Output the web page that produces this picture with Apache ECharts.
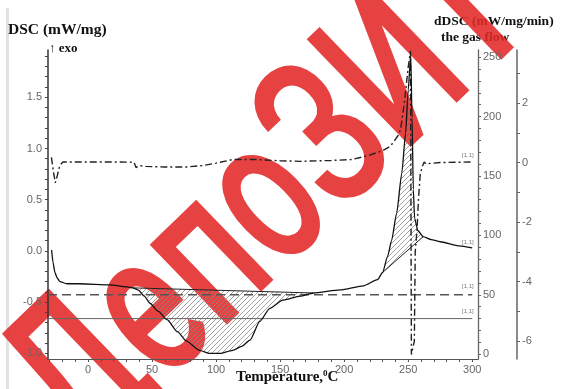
<!DOCTYPE html>
<html>
<head>
<meta charset="utf-8">
<script src="https://cdn.jsdelivr.net/npm/echarts@6/dist/echarts.min.js"></script>
<style>
  html, body { margin: 0; padding: 0; background: #fff; }
  #chart { width: 566px; height: 389px; }
</style>
</head>
<body>
<div id="chart"></div>
<script>
// DSC curve (left axis), temperature in degC
var dscTemp = [-28.4, -27.3, -25.8, -24.2, -21.9, -16.4, -6.3, 17, 30.5, 35, 39, 44, 48.4, 55, 61.7, 70, 77, 87, 95, 103, 113, 120, 126.5, 134, 142, 152, 165.6, 176, 197, 215, 226, 230, 234, 237, 241, 245, 248, 250, 252, 253, 254, 255, 257.5, 261.7, 268, 275, 290, 300];
var dscVal = [0.01, -0.11, -0.21, -0.26, -0.30, -0.32, -0.32, -0.33, -0.35, -0.36, -0.38, -0.44, -0.51, -0.59, -0.67, -0.79, -0.88, -0.97, -1.0, -1.0, -0.97, -0.93, -0.87, -0.69, -0.56, -0.48, -0.44, -0.41, -0.38, -0.34, -0.28, -0.21, -0.05, 0.10, 0.37, 0.76, 1.15, 1.57, 1.91, 1.30, 0.60, 0.32, 0.20, 0.14, 0.11, 0.09, 0.05, 0.03];

// dDSC curve (right axis 2)
var ddscTemp = [-28.5, -27, -25.5, -24, -22, -19.5, 0, 20, 36, 37.5, 40, 45, 60, 77, 90, 100, 113, 130, 150, 166, 190, 206, 220, 230, 236, 242, 244, 247, 250, 251.8, 252.5, 254.8, 255.5, 257, 258, 259.4, 261, 262.5, 264, 267, 275, 290, 300];
var ddscVal = [0.17, -0.3, -0.68, -0.45, -0.1, 0.02, 0.02, 0.02, 0.01, -0.17, -0.1, -0.13, -0.15, -0.15, -0.1, -0.02, 0.1, 0.1, 0.06, 0.04, 0.07, 0.1, 0.25, 0.4, 0.54, 0.9, 1.1, 2.0, 3.2, 3.75, -6.45, -6.0, -3.0, -2.2, -1.24, -0.4, -0.13, 0.02, -0.05, -0.03, 0, 0.01, 0.02];

// gas flow lines (right axis 1)
var gasTemp = [-31.2, 300];
var gasFlowA = [50, 50];
var gasFlowB = [30, 30];

// integration baselines
var endoBaseTemp = [35, 176];
var endoBaseVal = [-0.36, -0.41];
var exoBaseTemp = [230, 261.7];
var exoBaseVal = [-0.21, 0.14];

// ticks and labels
var xTicks = [-30, -20, -10, 0, 10, 20, 30, 40, 50, 60, 70, 80, 90, 100, 110, 120, 130, 140, 150, 160, 170, 180, 190, 200, 210, 220, 230, 240, 250, 260, 270, 280, 290, 300];
var xLabels = [0, 50, 100, 150, 200, 250, 300];
var dscTicks = [-1.0, -0.9, -0.8, -0.7, -0.6, -0.5, -0.4, -0.3, -0.2, -0.1, 0, 0.1, 0.2, 0.3, 0.4, 0.5, 0.6, 0.7, 0.8, 0.9, 1.0, 1.1, 1.2, 1.3, 1.4, 1.5, 1.6, 1.7, 1.8, 1.9];
var dscLabels = [-1.0, -0.5, 0, 0.5, 1.0, 1.5];
var gasTicks = [0, 10, 20, 30, 40, 50, 60, 70, 80, 90, 100, 110, 120, 130, 140, 150, 160, 170, 180, 190, 200, 210, 220, 230, 240, 250];
var gasLabels = [0, 50, 100, 150, 200, 250];
var ddscTicks = [-6, -5, -4, -3, -2, -1, 0, 1, 2, 3];
var ddscLabels = [-6, -4, -2, 0, 2];

function pairs(xs, ys) {
  return xs.map(function (x, i) { return [x, ys[i]]; });
}

function hatchPattern() {
  var c = document.createElement("canvas");
  c.width = 5;
  c.height = 5;
  var g = c.getContext("2d");
  g.strokeStyle = "#8a8a8a";
  g.lineWidth = 0.8;
  g.beginPath();
  g.moveTo(0, 5); g.lineTo(5, 0);
  g.moveTo(-1, 1); g.lineTo(1, -1);
  g.moveTo(4, 6); g.lineTo(6, 4);
  g.stroke();
  return { image: c, repeat: "repeat" };
}
var hatch = hatchPattern();

// hatched area between the DSC curve and a straight baseline
function hatchSeries(baseT, baseV) {
  return {
    type: "custom",
    xAxisIndex: 0,
    yAxisIndex: 0,
    silent: true,
    z: 1,
    data: [[baseT[0], baseV[0]]],
    renderItem: function (params, api) {
      var pts = [];
      for (var i = 0; i < dscTemp.length; i++) {
        if (dscTemp[i] >= baseT[0] && dscTemp[i] <= baseT[1]) {
          pts.push(api.coord([dscTemp[i], dscVal[i]]));
        }
      }
      pts.push(api.coord([baseT[1], baseV[1]]));
      pts.push(api.coord([baseT[0], baseV[0]]));
      return {
        type: "polygon",
        shape: { points: pts },
        style: { fill: hatch, stroke: null },
      };
    },
  };
}

var labelStyle = { color: "#666", fontSize: 11, fontFamily: "Liberation Sans" };
var serif = "Liberation Serif";

var chart = echarts.init(document.getElementById("chart"));
var option = {
  backgroundColor: "#fff",
  animation: false,
  grid: { left: 48, right: 88, top: 50, bottom: 30 },
  xAxis: {
    type: "value",
    min: -31.2,
    max: 304.5,
    splitLine: { show: false },
    axisLine: { onZero: false, lineStyle: { color: "#555", width: 1.2 } },
    axisTick: { customValues: xTicks, length: 3, lineStyle: { color: "#555" } },
    axisLabel: Object.assign({ customValues: xLabels, margin: 5 }, labelStyle),
  },
  yAxis: [
    {
      type: "value",
      position: "left",
      min: -1.054,
      max: 1.961,
      splitLine: { show: false },
      axisLine: { show: true, onZero: false, lineStyle: { color: "#333", width: 1.5 } },
      axisTick: { customValues: dscTicks, length: 3, lineStyle: { color: "#444" } },
      axisLabel: Object.assign({
        customValues: dscLabels,
        margin: 6,
        formatter: function (v) { return v.toFixed(1); },
      }, labelStyle),
    },
    {
      type: "value",
      position: "right",
      min: -4,
      max: 256,
      splitLine: { show: false },
      axisLine: { show: true, onZero: false, lineStyle: { color: "#666", width: 1.3 } },
      axisTick: { customValues: gasTicks, length: 3, lineStyle: { color: "#666" } },
      axisLabel: Object.assign({ customValues: gasLabels, margin: 5 }, labelStyle),
    },
    {
      type: "value",
      position: "right",
      offset: 39,
      min: -6.6,
      max: 3.78,
      splitLine: { show: false },
      axisLine: { show: true, onZero: false, lineStyle: { color: "#666", width: 1.5 } },
      axisTick: { customValues: ddscTicks, length: 3, lineStyle: { color: "#666" } },
      axisLabel: Object.assign({ customValues: ddscLabels, margin: 5 }, labelStyle),
    },
  ],
  series: [
    hatchSeries(endoBaseTemp, endoBaseVal),
    hatchSeries(exoBaseTemp, exoBaseVal),
    {
      name: "gas flow 50",
      type: "line",
      yAxisIndex: 1,
      symbol: "none",
      data: pairs(gasTemp, gasFlowA),
      lineStyle: { color: "#555", width: 1.6, type: [9, 5] },
    },
    {
      name: "gas flow 30",
      type: "line",
      yAxisIndex: 1,
      symbol: "none",
      data: pairs(gasTemp, gasFlowB),
      lineStyle: { color: "#666", width: 1 },
    },
    {
      name: "endo baseline",
      type: "line",
      symbol: "none",
      data: pairs(endoBaseTemp, endoBaseVal),
      lineStyle: { color: "#222", width: 1 },
    },
    {
      name: "exo baseline",
      type: "line",
      symbol: "none",
      data: pairs(exoBaseTemp, exoBaseVal),
      lineStyle: { color: "#222", width: 1 },
    },
    {
      name: "dDSC",
      type: "line",
      yAxisIndex: 2,
      symbol: "none",
      data: pairs(ddscTemp, ddscVal),
      lineStyle: { color: "#222", width: 1.4, type: [7, 3, 2, 3] },
    },
    {
      name: "DSC",
      type: "line",
      symbol: "none",
      smooth: 0.2,
      smoothMonotone: "x",
      data: pairs(dscTemp, dscVal),
      lineStyle: { color: "#111", width: 1.3 },
    },
  ],
  graphic: [
    { type: "rect", left: 6, top: 8, z: 0, shape: { width: 3, height: 381 }, style: { fill: "#e2e2e2" } },
    { type: "text", left: 8, top: 22, style: { text: "DSC (mW/mg)", font: "bold 15.5px " + serif, fill: "#111" } },
    { type: "text", left: 49, top: 42, style: { text: "\u2191 exo", font: "bold 13px " + serif, fill: "#111" } },
    { type: "text", left: 434, top: 15, style: { text: "dDSC (mW/mg/min)", font: "bold 13.5px " + serif, fill: "#111" } },
    { type: "text", left: 441, top: 31, style: { text: "the gas flow", font: "bold 13.5px " + serif, fill: "#111" } },
    {
      type: "text", left: 236, top: 369,
      style: {
        text: "Temperature,{s|0}C",
        font: "bold 15px " + serif,
        fill: "#111",
        rich: { s: { fontSize: 9, fontWeight: "bold", fontFamily: serif, verticalAlign: "top", padding: [0, 0, 7, 0] } },
      },
    },
    { type: "text", left: 462, top: 152, style: { text: "[1,1]", font: "6px Liberation Sans", fill: "#777" } },
    { type: "text", left: 462, top: 239, style: { text: "[1,1]", font: "6px Liberation Sans", fill: "#777" } },
    { type: "text", left: 462, top: 283, style: { text: "[1,1]", font: "6px Liberation Sans", fill: "#777" } },
    { type: "text", left: 462, top: 308, style: { text: "[1,1]", font: "6px Liberation Sans", fill: "#777" } },
    {
      type: "text",
      x: 276, y: 204,
      rotation: 44 * Math.PI / 180,
      scaleX: 0.9,
      scaleY: 1.3,
      z: 0,
      silent: true,
      style: {
        text: "\u0414\u0435\u043f\u043e\u0417\u0418\u0422",
        font: "500 162px Roboto",
        fill: "rgba(228, 40, 40, 0.88)",
        align: "center",
        verticalAlign: "middle",
      },
    },
  ],
};
chart.setOption(option);
</script>
</body>
</html>
